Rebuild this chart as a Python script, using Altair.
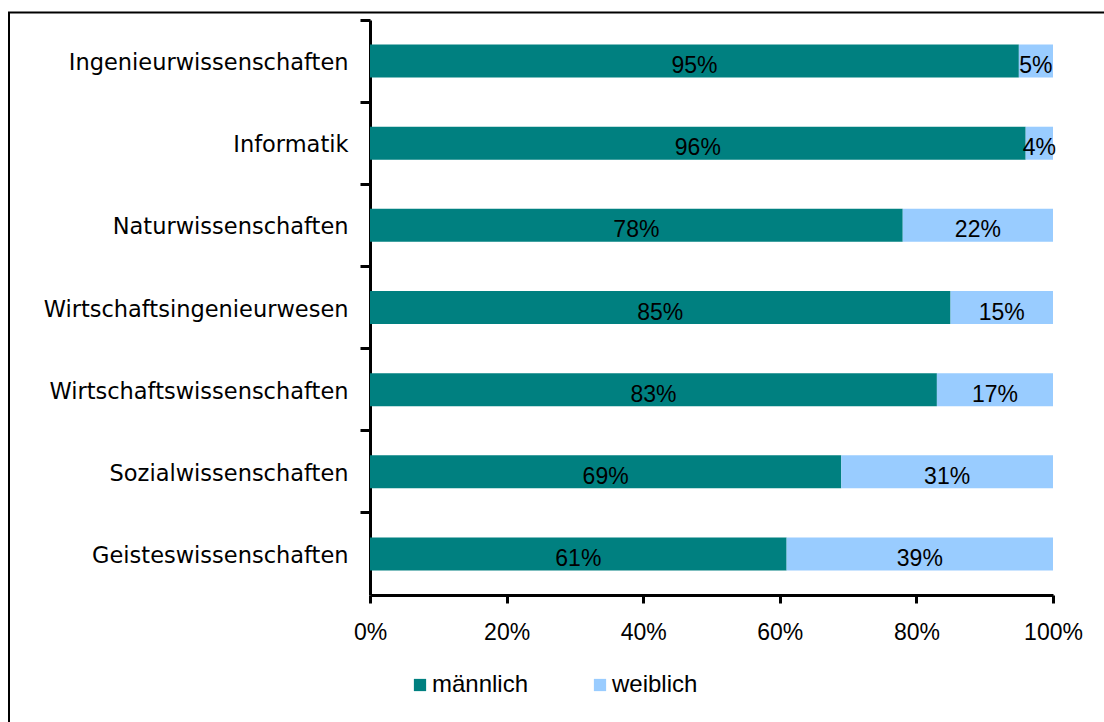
import altair as alt
import pandas as pd

categories = ["Ingenieurwissenschaften", "Informatik", "Naturwissenschaften",
              "Wirtschaftsingenieurwesen", "Wirtschaftswissenschaften",
              "Sozialwissenschaften", "Geisteswissenschaften"]
maennlich = [95, 96, 78, 85, 83, 69, 61]
weiblich = [5, 4, 22, 15, 17, 31, 39]
series = ["männlich", "weiblich"]
colors = ["#008080", "#99CCFF"]
x_ticks = [0, 20, 40, 60, 80, 100]

rows = []
for c, m, w in zip(categories, maennlich, weiblich):
    rows.append({"cat": c, "series": series[0], "value": m, "ord": 0})
    rows.append({"cat": c, "series": series[1], "value": w, "ord": 1})
df = pd.DataFrame(rows)

W, H = 683, 575
NUM_FONT = "Liberation Sans"
CAT_FONT = "DejaVu Sans"

base = alt.Chart(df).transform_stack(
    stack="value", groupby=["cat"], as_=["start", "end"],
    sort=[alt.SortField("ord", order="ascending")]
).transform_calculate(mid="(datum.start + datum.end) / 2")

y_enc = alt.Y("cat:N", sort=categories, title=None,
              scale=alt.Scale(paddingInner=0, paddingOuter=0),
              axis=alt.Axis(bandPosition=0, domainColor="black", domainWidth=3,
                            tickColor="black", tickWidth=3, tickSize=10,
                            labelFont=CAT_FONT, labelFontSize=22.5, labelColor="black",
                            labelPadding=12, labelLimit=400, labelOffset=2))

bars = base.mark_bar(size=33).encode(
    y=y_enc,
    x=alt.X("start:Q", title=None,
            scale=alt.Scale(domain=[0, 100], nice=False),
            axis=alt.Axis(values=x_ticks, labelExpr="datum.value + '%'",
                          domainColor="black", domainWidth=3,
                          tickColor="black", tickWidth=3, tickSize=8,
                          labelFont=NUM_FONT, labelFontSize=23, labelColor="black",
                          labelPadding=18, labelFlush=False, grid=False)),
    x2="end:Q",
    color=alt.Color("series:N", scale=alt.Scale(domain=series, range=colors),
                    legend=alt.Legend(title=None, orient="none", direction="horizontal",
                                      legendX=38, legendY=653, symbolType="square",
                                      symbolSize=150, symbolStrokeWidth=0,
                                      labelFont=NUM_FONT, labelFontSize=24,
                                      labelColor="black", labelOffset=0,
                                      columnPadding=59)),
)

texts = base.mark_text(font=NUM_FONT, fontSize=23, color="black", dy=5).encode(
    y=alt.Y("cat:N", sort=categories),
    x=alt.X("mid:Q"),
    text=alt.Text("label:N"),
).transform_calculate(label="datum.value + '%'")

one = pd.DataFrame({"a": [0]})
left_border = alt.Chart(one).mark_rule(color="black", strokeWidth=2).encode(
    x=alt.value(-361), y=alt.value(-8), y2=alt.value(710))
top_border = alt.Chart(one).mark_rule(color="black", strokeWidth=2).encode(
    x=alt.value(-362), x2=alt.value(740), y=alt.value(-7.5))

chart = alt.layer(bars, texts, left_border, top_border).properties(
    width=W, height=H,
    autosize=alt.AutoSizeParams(type="none"),
    padding={"left": 370, "top": 20, "right": 51, "bottom": 127},
    background="white",
).configure_view(stroke=None)

chart.save("out.html", embed_options={"renderer": "svg", "actions": False})
